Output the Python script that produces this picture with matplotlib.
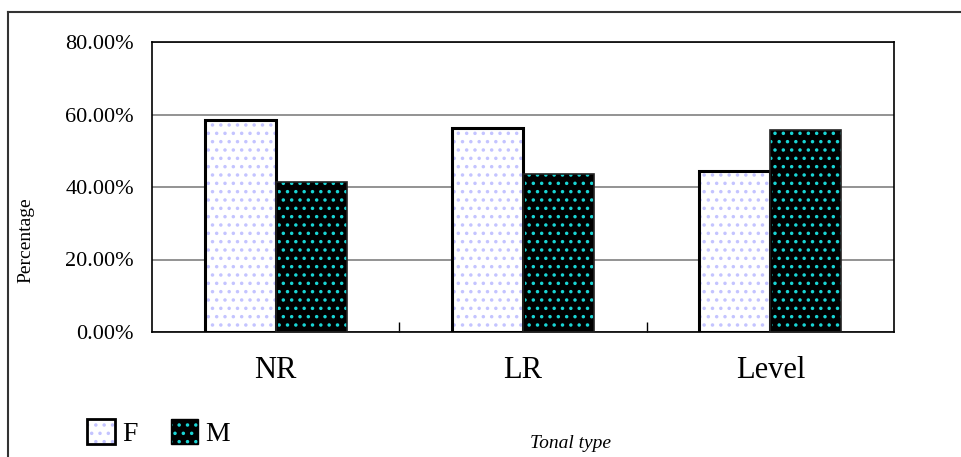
import matplotlib.pyplot as plt
import numpy as np
from matplotlib.patches import Patch
from matplotlib.lines import Line2D
from matplotlib.legend_handler import HandlerTuple

categories = ["NR", "LR", "Level"]
female = [58.6, 56.3, 44.4]
male = [41.4, 43.7, 55.6]
yticks = [0, 20, 40, 60, 80]

plt.rcParams['font.family'] = ['Liberation Serif', 'DejaVu Serif']
plt.rcParams['hatch.linewidth'] = 1.3

fig = plt.figure(figsize=(9.61, 4.57), dpi=100)
ax = fig.add_axes([152 / 961, 125 / 457, 742 / 961, 290 / 457])

x = np.arange(len(categories))
w = 0.287
f_dots = '#c4c4ff'
m_dots = '#19d4d4'

# fill with dots, then a separate black outline on top
ax.bar(x - w / 2, female, w, color='white', edgecolor=f_dots, hatch='..', linewidth=0, zorder=2)
ax.bar(x - w / 2, female, w, fill=False, edgecolor='black', linewidth=2.2, zorder=3)
ax.bar(x + w / 2, male, w, color='black', edgecolor=m_dots, hatch='..', linewidth=0, zorder=2)
ax.bar(x + w / 2, male, w, fill=False, edgecolor='#222222', linewidth=1.2, zorder=3)

ax.set_xlim(-0.5, len(categories) - 0.5)
ax.set_ylim(0, 80)
ax.set_yticks(yticks)
ax.set_yticklabels([f"{v:.2f}%" for v in yticks], fontsize=16)
ax.tick_params(axis='y', length=0, pad=13)
ax.yaxis.grid(True, color='#808080', linewidth=1.2, zorder=0)
ax.set_axisbelow(True)

ax.set_xticks([0.5, 1.5])
ax.set_xticklabels([])
ax.tick_params(axis='x', direction='in', length=7, width=1, color='black')
for i, c in enumerate(categories):
    ax.text(i, -10.5, c, ha='center', va='center', fontsize=22)

for s in ax.spines.values():
    s.set_color('black')
    s.set_linewidth(1.2)

ax.set_ylabel("Percentage", fontsize=14)
ax.yaxis.set_label_coords(-0.159, 0.317)
fig.text(570 / 961, 1 - 443 / 457, "Tonal type", ha='center', va='center', fontsize=14, style='italic')

# outer frame, partly cut off
fig.add_artist(Line2D([8 / 961, 8 / 961], [0, 1 - 12 / 457], color='#333333', linewidth=1.5))
fig.add_artist(Line2D([8 / 961, 1], [1 - 12 / 457, 1 - 12 / 457], color='#333333', linewidth=1.5))

hf = (Patch(facecolor='white', edgecolor=f_dots, hatch='..', linewidth=0),
      Patch(fill=False, edgecolor='black', linewidth=2))
hm = (Patch(facecolor='black', edgecolor=m_dots, hatch='..', linewidth=0),
      Patch(fill=False, edgecolor='black', linewidth=1))
fig.legend([hf, hm], ["F", "M"], handler_map={tuple: HandlerTuple(ndivide=1)},
           loc='center left', bbox_to_anchor=(62 / 961, 1 - 433 / 457), ncol=2,
           frameon=False, fontsize=20, handlelength=1.0, handleheight=1.0,
           handletextpad=0.25, columnspacing=1.2)

fig.savefig("out.png", dpi=100)
